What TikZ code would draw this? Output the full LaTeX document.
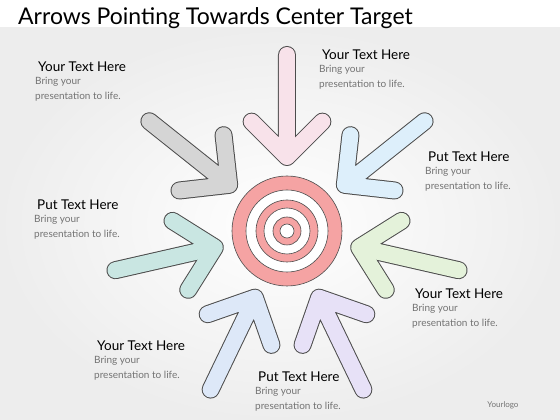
\documentclass[tikz,border=0pt]{standalone}
\usepackage{fontspec}
\setmainfont{Lato}
\usetikzlibrary{calc}
\usetikzlibrary{positioning}

\definecolor{targetred}{HTML}{F5A3A3}
\definecolor{arrowpink}{HTML}{F8E2EA}
\definecolor{arrowsky}{HTML}{DDEFFB}
\definecolor{arrowgreen}{HTML}{E4F2DA}
\definecolor{arrowlilac}{HTML}{E7E1F7}
\definecolor{arrowblue}{HTML}{DDE8F8}
\definecolor{arrowteal}{HTML}{C9E6E2}
\definecolor{arrowgray}{HTML}{D5D5D5}

\begin{document}
\begin{tikzpicture}[x=1pt,y=1pt,
    arrowout/.style={line width=18pt,line cap=round,line join=round,draw=black!70},
    arrowin/.style={line width=16pt,line cap=round,line join=round,preaction={arrowout}},
    ring/.style={draw=black!70,line width=0.6pt},
    headtext/.style={inner sep=0pt,anchor=north west,font=\fontsize{13.5}{15}\selectfont},
    bodytext/.style={inner sep=0pt,align=left,text=black!55,font=\fontsize{10}{14.5}\selectfont}]
                \useasboundingbox (-287,-189) rectangle (273,231);

                % background
                \fill[white] (-287,203) rectangle (273,231);
                \shade[inner color=white,outer color=black!7] (-287,-189) rectangle (273,203);

                \node[anchor=west,inner sep=0pt,font=\fontsize{23}{26}\selectfont] (title) at (-269,213) {Arrows Pointing Towards Center Target};

                % arrows
                \foreach \ang/\col in {90/arrowpink,38.57/arrowsky,-12.86/arrowgreen,-64.29/arrowlilac,-115.71/arrowblue,-167.14/arrowteal,141.43/arrowgray}{
                    \coordinate (tail) at (\ang:176);
                    \coordinate (tip) at (\ang:74);
                    \draw[arrowin,draw=\col] (tail) -- (tip) ($(tip)+(\ang+45:50)$) -- (tip) -- ($(tip)+(\ang-45:50)$);
                }

                % target
                \draw[ring,fill=targetred] (0,0) circle (55);
                \draw[ring,fill=white] (0,0) circle (41);
                \draw[ring,fill=targetred] (0,0) circle (31);
                \draw[ring,fill=white] (0,0) circle (23);
                \draw[ring,fill=targetred] (0,0) circle (14);
                \draw[ring,fill=white] (0,0) circle (7);

                % texts
                \node[headtext] (h1) at (-249,169) {Your Text Here};
                \node[bodytext,below right=5pt and -3pt of h1.south west] (b1) {Bring your\\presentation to life.};

                \node[headtext] (h2) at (35,181) {Your Text Here};
                \node[bodytext,below right=5pt and -3pt of h2.south west] (b2) {Bring your\\presentation to life.};

                \node[headtext] (h3) at (141,79) {Put Text Here};
                \node[bodytext,below right=5pt and -3pt of h3.south west] (b3) {Bring your\\presentation to life.};

                \node[headtext] (h4) at (-250,31) {Put Text Here};
                \node[bodytext,below right=5pt and -3pt of h4.south west] (b4) {Bring your\\presentation to life.};

                \node[headtext] (h5) at (128,-58) {Your Text Here};
                \node[bodytext,below right=5pt and -3pt of h5.south west] (b5) {Bring your\\presentation to life.};

                \node[headtext] (h6) at (-190,-110) {Your Text Here};
                \node[bodytext,below right=5pt and -3pt of h6.south west] (b6) {Bring your\\presentation to life.};

                \node[headtext] (h7) at (-29,-141) {Put Text Here};
                \node[bodytext,below right=5pt and -3pt of h7.south west] (b7) {Bring your\\presentation to life.};

                \node[inner sep=0pt,text=black!55,font=\fontsize{8}{9}\selectfont] (logo) at (216,-174) {Yourlogo};
            \end{tikzpicture}
\end{document}
